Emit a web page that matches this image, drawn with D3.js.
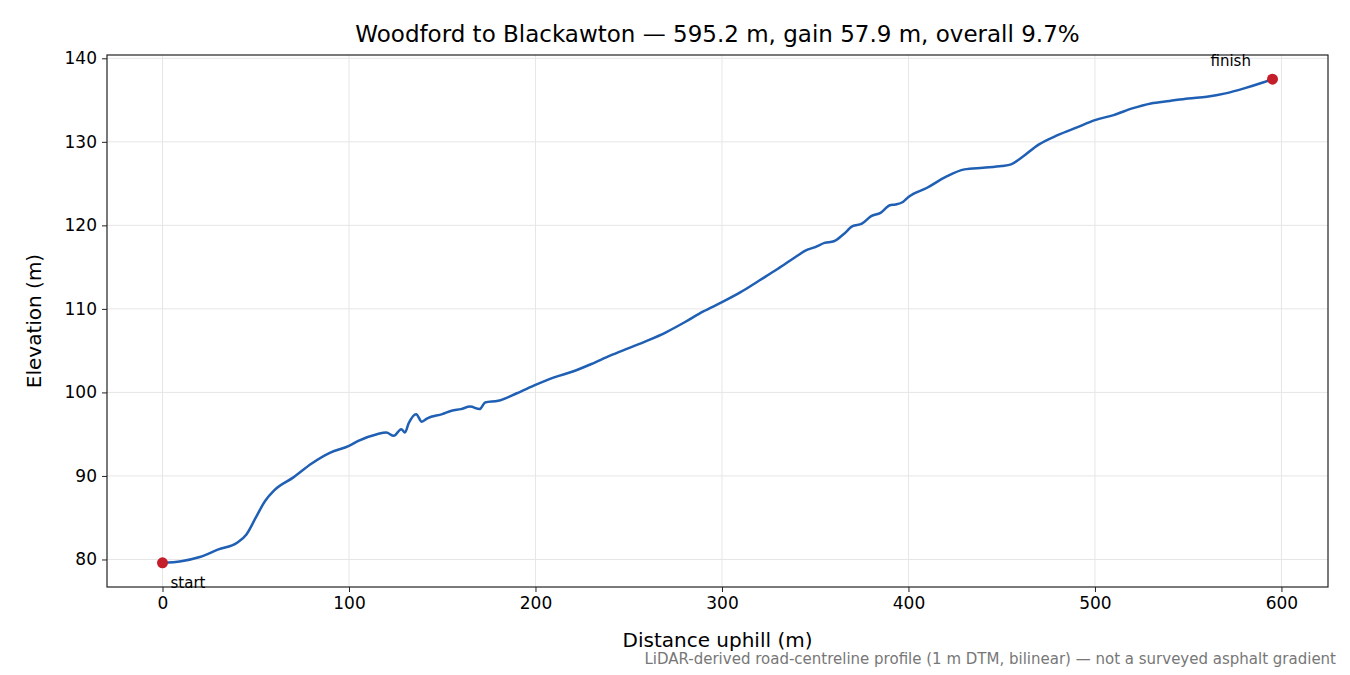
<!DOCTYPE html>
<html><head><meta charset="utf-8">
<script src="https://cdn.jsdelivr.net/npm/d3@7"></script>
<style>body{margin:0;background:#fff}text{font-family:"DejaVu Sans",sans-serif}</style>
</head><body><svg id="c" width="1350" height="675"></svg>
<script>
const distances=[0,10,20,30,40,45,50,55,60,70,80,90,100,105,115,120,124,128,130,132,136,139,142,150,155,160,165,170,173,180,190,200,210,220,230,240,250,260,270,280,290,300,310,320,330,340,345,350,355,360,365,370,375,380,385,390,393,397,400,410,420,430,440,450,455,460,470,480,490,500,510,520,530,540,550,560,570,580,590,595.2];
const elevations=[79.6,79.8,80.3,81.2,82.0,83.0,85.0,87.0,88.3,89.8,91.5,92.8,93.6,94.2,95.0,95.2,94.8,95.6,95.2,96.3,97.4,96.5,96.9,97.4,97.8,98.0,98.3,98.0,98.8,99.0,99.9,100.9,101.8,102.5,103.4,104.4,105.3,106.2,107.2,108.4,109.7,110.8,112.0,113.4,114.8,116.3,117.0,117.4,117.9,118.1,118.9,119.9,120.2,121.1,121.5,122.4,122.5,122.8,123.4,124.5,125.8,126.7,126.9,127.1,127.3,128.0,129.7,130.8,131.7,132.6,133.2,134.0,134.6,134.9,135.2,135.4,135.8,136.4,137.1,137.5];
const xTicks=[0,100,200,300,400,500,600];
const yTicks=[80,90,100,110,120,130,140];
const svg=d3.select("#c");
const L=107,R=1328,T=55,B=587;
const x=d3.scaleLinear().domain([-29.76,624.96]).range([L,R]);
const y=d3.scaleLinear().domain([76.705,140.395]).range([B,T]);
const g=svg.append("g");
g.selectAll(".gx").data(xTicks).join("line").attr("x1",d=>x(d)).attr("x2",d=>x(d)).attr("y1",T).attr("y2",B).attr("stroke","#e6e6e6");
g.selectAll(".gy").data(yTicks).join("line").attr("y1",d=>y(d)).attr("y2",d=>y(d)).attr("x1",L).attr("x2",R).attr("stroke","#e6e6e6");
const ax=svg.append("g").attr("transform",`translate(0,${B})`).call(d3.axisBottom(x).tickValues(xTicks).tickSize(5).tickPadding(5).tickFormat(d3.format("d")));
const ay=svg.append("g").attr("transform",`translate(${L},0)`).call(d3.axisLeft(y).tickValues(yTicks).tickSize(5).tickPadding(5).tickFormat(d3.format("d")));
[ax,ay].forEach(a=>{a.attr("font-size",null).attr("font-family",null);a.select(".domain").remove();a.selectAll("text").style("font-size","17px").attr("fill","#000");a.selectAll("line").attr("stroke","#222");});
const pts=distances.map((d,i)=>[d,elevations[i]]);
svg.append("path").datum(pts).attr("d",d3.line().x(d=>x(d[0])).y(d=>y(d[1])).curve(d3.curveMonotoneX)).attr("fill","none").attr("stroke","#1f5fb4").attr("stroke-width",2.5);
svg.append("rect").attr("x",L).attr("y",T).attr("width",R-L).attr("height",B-T).attr("fill","none").attr("stroke","#222").attr("stroke-width",1.2);
const ends=[pts[0],pts[pts.length-1]];
svg.selectAll(".pt").data(ends).join("circle").attr("cx",d=>x(d[0])).attr("cy",d=>y(d[1])).attr("r",5.5).attr("fill","#c41e2a");
svg.append("text").attr("x",x(0)+8).attr("y",y(79.6)+25).style("font-size","15px").text("start");
svg.append("text").attr("x",x(595.2)-62).attr("y",y(137.5)-13).style("font-size","15px").text("finish");
svg.append("text").attr("x",(L+R)/2).attr("y",42).attr("text-anchor","middle").style("font-size","23px").text("Woodford to Blackawton — 595.2 m, gain 57.9 m, overall 9.7%");
svg.append("text").attr("x",(L+R)/2).attr("y",647).attr("text-anchor","middle").style("font-size","20px").text("Distance uphill (m)");
svg.append("text").attr("transform",`translate(41,${(T+B)/2}) rotate(-90)`).attr("text-anchor","middle").style("font-size","20px").text("Elevation (m)");
svg.append("text").attr("x",1336).attr("y",664).attr("text-anchor","end").style("font-size","15px").attr("fill","#777").text("LiDAR-derived road-centreline profile (1 m DTM, bilinear) — not a surveyed asphalt gradient");
</script></body></html>
